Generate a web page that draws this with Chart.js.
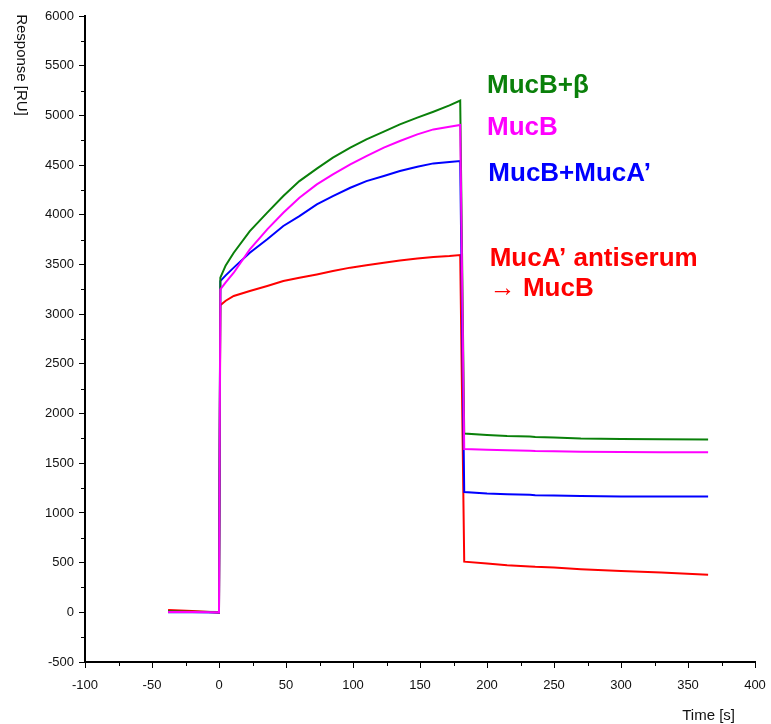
<!DOCTYPE html>
<html>
<head>
<meta charset="utf-8">
<script src="https://cdn.jsdelivr.net/npm/chart.js@4.4.1/dist/chart.umd.min.js"></script>
<style>
    html, body { margin: 0; padding: 0; background: #fff; }
    #wrap { width: 771px; height: 724px; position: relative; }
</style>
</head>
<body>
<div id="wrap"><canvas id="sprChart"></canvas></div>
<script>
// time points [s] of the three phases
const baselineTimes = [-38, -20, 0];
const assocTimes = [1, 5, 11, 23, 36, 48, 60, 73, 85, 98, 110, 123, 135, 148, 160, 172, 180];
const dissocTimes = [183, 200, 215, 232, 236, 250, 270, 300, 330, 365];

// MucB+beta
const greenBase = [10, 6, 2];
const greenAssoc = [3367, 3490, 3618, 3836, 4021, 4188, 4339, 4464, 4574, 4675, 4759, 4836, 4909, 4977, 5037, 5100, 5150];
const greenDissoc = [1798, 1785, 1774, 1770, 1764, 1760, 1750, 1745, 1742, 1740];

// MucB
const magentaBase = [3, 2, 0];
const magentaAssoc = [3250, 3320, 3417, 3652, 3853, 4021, 4172, 4306, 4406, 4507, 4591, 4675, 4742, 4809, 4859, 4886, 4903];
const magentaDissoc = [1643, 1635, 1630, 1626, 1622, 1620, 1616, 1612, 1610, 1610];

// MucB+MucA'
const blueBase = [0, 0, -2];
const blueAssoc = [3333, 3390, 3468, 3618, 3753, 3887, 3987, 4105, 4188, 4272, 4339, 4390, 4440, 4484, 4517, 4530, 4540];
const blueDissoc = [1210, 1195, 1187, 1182, 1178, 1176, 1170, 1166, 1164, 1164];

// MucA' antiserum -> MucB
const redBase = [23, 12, -3];
const redAssoc = [3089, 3135, 3183, 3233, 3283, 3333, 3367, 3400, 3434, 3468, 3491, 3518, 3541, 3561, 3575, 3585, 3595];
const redDissoc = [510, 490, 473, 462, 458, 450, 433, 416, 400, 378];

// curve labels (anchor in data units: time, response at baseline)
const labelTexts = ['MucB+β', 'MucB', 'MucB+MucA’', 'MucA’ antiserum', '→ MucB'];
const labelColors = ['#0a800a', '#ff00ff', '#0000ff', '#ff0000', '#ff0000'];
const labelTimes = [200, 200, 201, 202, 202];
const labelValues = [5228, 4799, 4336, 3481, 3179];

function buildSeries(base, assoc, dissoc) {
    const pts = [];
    baselineTimes.forEach((t, i) => pts.push({ x: t, y: base[i] }));
    assocTimes.forEach((t, i) => pts.push({ x: t, y: assoc[i] }));
    dissocTimes.forEach((t, i) => pts.push({ x: t, y: dissoc[i] }));
    return pts;
}

const extrasPlugin = {
    id: 'extras',
    afterDraw(chart) {
        const ctx = chart.ctx;
        const xs = chart.scales.x;
        const ys = chart.scales.y;
        const area = chart.chartArea;

        // minor ticks
        ctx.save();
        ctx.strokeStyle = '#000';
        ctx.lineWidth = 1;
        ctx.beginPath();
        for (let v = -75; v < 400; v += 50) {
            const px = Math.round(xs.getPixelForValue(v)) + 0.5;
            ctx.moveTo(px, area.bottom);
            ctx.lineTo(px, area.bottom + 4);
        }
        for (let v = -250; v < 6000; v += 500) {
            const py = Math.round(ys.getPixelForValue(v)) + 0.5;
            ctx.moveTo(area.left, py);
            ctx.lineTo(area.left - 4, py);
        }
        ctx.stroke();

        // axis titles
        ctx.fillStyle = '#111';
        ctx.font = '15px "Liberation Sans", Arial, sans-serif';
        ctx.textAlign = 'right';
        ctx.textBaseline = 'middle';
        ctx.fillText('Time [s]', 735, 716);

        ctx.translate(21, 65);
        ctx.rotate(Math.PI / 2);
        ctx.textAlign = 'center';
        ctx.fillText('Response [RU]', 0, 0);
        ctx.restore();

        // curve labels
        ctx.save();
        ctx.font = 'bold 26px "Liberation Sans", Arial, sans-serif';
        ctx.textAlign = 'left';
        ctx.textBaseline = 'alphabetic';
        labelTexts.forEach((txt, i) => {
            ctx.fillStyle = labelColors[i];
            ctx.fillText(txt, xs.getPixelForValue(labelTimes[i]), ys.getPixelForValue(labelValues[i]));
        });
        ctx.restore();
    }
};

const tickFont = { family: '"Liberation Sans", Arial, sans-serif', size: 13 };
const ctx = document.getElementById('sprChart').getContext('2d');

new Chart(ctx, {
    type: 'line',
    data: {
        datasets: [
            {
                label: 'MucB+β',
                data: buildSeries(greenBase, greenAssoc, greenDissoc),
                borderColor: '#0a800a',
                order: 1
            },
            {
                label: 'MucB',
                data: buildSeries(magentaBase, magentaAssoc, magentaDissoc),
                borderColor: '#ff00ff',
                order: 0
            },
            {
                label: 'MucB+MucA’',
                data: buildSeries(blueBase, blueAssoc, blueDissoc),
                borderColor: '#0000ff',
                order: 2
            },
            {
                label: 'MucA’ antiserum → MucB',
                data: buildSeries(redBase, redAssoc, redDissoc),
                borderColor: '#ff0000',
                order: 3
            }
        ]
    },
    options: {
        responsive: true,
        maintainAspectRatio: false,
        animation: false,
        datasets: {
            line: {
                borderWidth: 2,
                pointRadius: 0,
                fill: false,
                tension: 0
            }
        },
        layout: {
            padding: { top: 16, right: 16, left: 0, bottom: 0 }
        },
        plugins: {
            legend: { display: false },
            tooltip: { enabled: false }
        },
        scales: {
            x: {
                type: 'linear',
                min: -100,
                max: 400,
                afterFit: (scale) => {
                    scale.height = 62;
                    scale.paddingLeft = 0;
                    scale.paddingRight = 0;
                },
                border: { color: '#000', width: 2 },
                grid: { drawOnChartArea: false, tickLength: 6, tickColor: '#000', tickWidth: 1 },
                ticks: {
                    stepSize: 50,
                    color: '#111',
                    padding: 10,
                    maxRotation: 0,
                    font: tickFont,
                    callback: (v) => String(v)
                }
            },
            y: {
                min: -500,
                max: 6000,
                afterFit: (scale) => { scale.width = 85; },
                border: { color: '#000', width: 2 },
                grid: { drawOnChartArea: false, tickLength: 6, tickColor: '#000', tickWidth: 1 },
                ticks: {
                    stepSize: 500,
                    color: '#111',
                    padding: 5,
                    font: tickFont,
                    callback: (v) => String(v)
                }
            }
        }
    },
    plugins: [extrasPlugin]
});
</script>
</body>
</html>
